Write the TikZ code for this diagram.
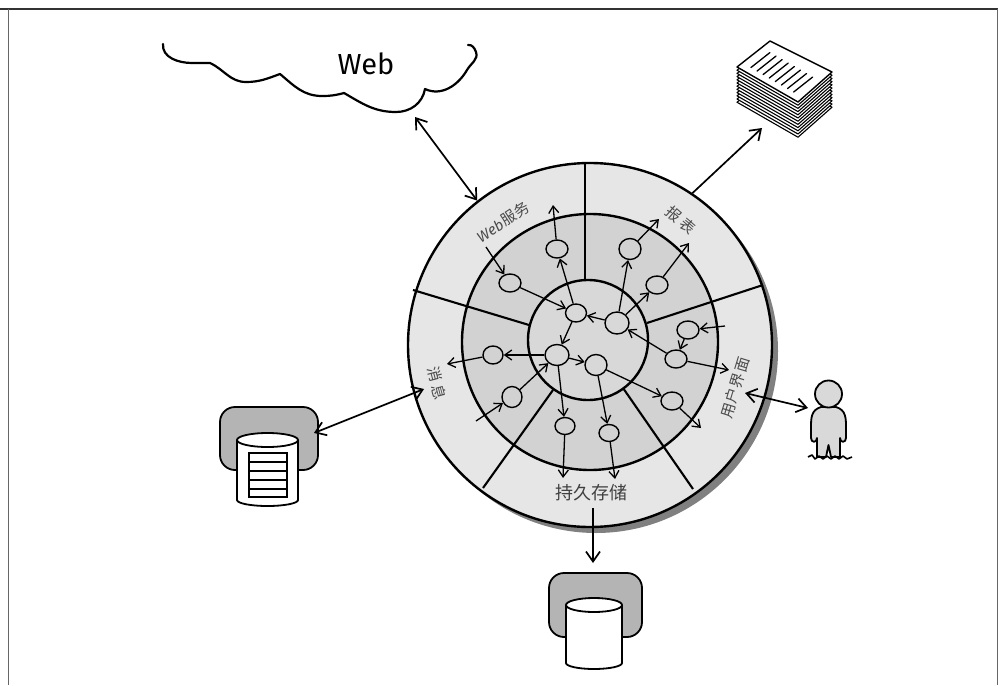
\documentclass[tikz,border=0pt]{standalone}
\usepackage{fontspec}
\newfontfamily\cjk{Noto Sans CJK SC}
\newfontfamily\handfont{Fira Sans}
\usetikzlibrary{arrows.meta,shapes.geometric,calc}

\definecolor{ringouter}{HTML}{E6E6E6}
\definecolor{ringmid}{HTML}{D2D2D2}
\definecolor{ringinner}{HTML}{D8D8D8}
\definecolor{dbgray}{HTML}{B4B4B4}
\definecolor{labelgray}{HTML}{4A4A4A}

\begin{document}
\begin{tikzpicture}[x=1pt,y=-1pt,
  ringline/.style={line width=2.4pt,draw=black},
  divider/.style={line width=2.1pt},
  bub/.style={ellipse,draw,line width=1.4pt,minimum width=22pt,minimum height=18pt,inner sep=0pt},
  flow/.style={line width=1.3pt,-{Straight Barb[length=7pt,width=10pt,line width=1.3pt]}},
  link/.style={line width=1.7pt,-{Straight Barb[length=10pt,width=14pt,line width=1.7pt]}},
  dlink/.style={line width=1.7pt,{Straight Barb[length=10pt,width=14pt,line width=1.7pt]}-{Straight Barb[length=10pt,width=14pt,line width=1.7pt]}},
  lbl/.style={font=\cjk\fontsize{15}{15}\selectfont,text=labelgray,inner sep=0pt},
  paper/.style={fill=white,draw=black,line width=1.1pt,line join=round},
  dbbox/.style={fill=dbgray,draw=black,line width=1.8pt,rounded corners=15pt},
  can/.style={fill=white,draw=black,line width=1.8pt},
]
\useasboundingbox (0,0) rectangle (998,685);

% frame
\draw[line width=1.6pt,black!80] (0,9) -- (998,9);
\draw[line width=0.8pt,black!60] (8,9) -- (8,685);
\draw[line width=0.8pt,black!60] (997,9) -- (997,685);

% ---------- rings ----------
\fill[black!50] (596,351) circle[radius=182];
\node[circle,minimum size=364pt,inner sep=0pt,fill=ringouter,ringline] (outer) at (590,345) {};
\node[circle,minimum size=256pt,inner sep=0pt,fill=ringmid,ringline] (middle) at (590,342) {};
\node[circle,minimum size=120pt,inner sep=0pt,fill=ringinner,ringline] (inner) at (588,340) {};

% sector dividers
\draw[divider] (585,280) -- (585,164);
\draw[divider] (647,323) -- (763,285);
\draw[divider] (529,325) -- (413,290);
\draw[divider] (553,390) -- (483,488);
\draw[divider] (623,388) -- (693,489);

% sector labels
\node[lbl,rotate=33] (lweb) at (503,222) {{\handfont\itshape Web}\hspace{1pt}服务};
\node[lbl,rotate=-41] (lrep) at (681,220) {报\hspace{3pt}表};
\node[lbl,rotate=73] (lui) at (735,388) {用\hspace{1pt}户\hspace{1pt}界\hspace{1pt}面};
\node[lbl,rotate=-75] (lmsg) at (437,383) {消\hspace{4pt}息};
\node[lbl,font=\cjk\fontsize{18}{18}\selectfont,text=black!75] (lstore) at (591,493) {持久存储};

% ---------- components ----------
\node[bub] (n1) at (557,249) {};
\node[bub] (n2) at (510,283) {};
\node[bub,minimum width=21pt] (n3) at (576,313) {};
\node[bub,minimum width=24pt,minimum height=22pt] (n4) at (617,323) {};
\node[bub,minimum height=21pt] (n5) at (630,249) {};
\node[bub] (n6) at (657,285) {};
\node[bub] (n7) at (688,330) {};
\node[bub] (n8) at (676,359) {};
\node[bub,minimum width=24pt,minimum height=21pt] (n9) at (557,355) {};
\node[bub,minimum width=20pt] (n10) at (493,355) {};
\node[bub,minimum width=20pt,minimum height=21pt] (n11) at (512,397) {};
\node[bub,minimum width=22pt,minimum height=21pt] (n12) at (596,365) {};
\node[bub] (n13) at (672,401) {};
\node[bub,minimum width=20pt,minimum height=17pt] (n14) at (565,426) {};
\node[bub,minimum width=20pt,minimum height=17pt] (n15) at (609,433) {};

% free ends of the flows
\coordinate (wIn) at (486,247);
\coordinate (wOut) at (553,205);
\coordinate (rOut1) at (659,219);
\coordinate (rOut2) at (689,243);
\coordinate (uIn) at (725,326);
\coordinate (uOut1) at (729,370);
\coordinate (uOut2) at (701,428);
\coordinate (pOut1) at (563,478);
\coordinate (pOut2) at (615,479);
\coordinate (mOut) at (447,364);
\coordinate (mIn) at (476,421);

% flows between components
\draw[flow] (wIn) -- (n2);
\draw[flow] (n2) -- (n3);
\draw[flow] (n3) -- (n1);
\draw[flow] (n1) -- (wOut);
\draw[flow] (n4) -- (n3);
\draw[flow] (n3) -- (n9);
\draw[flow] (n4) -- (n5);
\draw[flow] (n5) -- (rOut1);
\draw[flow] (n4) -- (n6);
\draw[flow] (n6) -- (rOut2);
\draw[flow] (uIn) -- (n7);
\draw[flow] (n7) -- (n8);
\draw[flow] (n8) -- (n4);
\draw[flow] (n8) -- (uOut1);
\draw[flow] (n9) -- (n12);
\draw[flow] (n12) -- (n13);
\draw[flow] (n13) -- (uOut2);
\draw[flow] (n9) -- (n10);
\draw[flow] (n10) -- (mOut);
\draw[flow] (mIn) -- (n11);
\draw[flow] (n11) -- (n9);
\draw[flow] (n9) -- (n14);
\draw[flow] (n14) -- (pOut1);
\draw[flow] (n12) -- (n15);
\draw[flow] (n15) -- (pOut2);

% ---------- web cloud ----------
\draw[line width=2.2pt,line cap=round,line join=round]
  (163,44) to[out=-95,in=180] (192,63) -- (210,63)
  to[out=-25,in=180] (246,82) to[out=0,in=-160] (280,74)
  to[out=-40,in=180] (322,96) to[out=0,in=-165] (344,93)
  to[out=-30,in=180] (396,112) to[out=0,in=-100] (425,89)
  to[out=-25,in=-120] (467,70)
  to[out=60,in=-70] (476,52) to[out=110,in=10] (468,45);
\node[font=\handfont\fontsize{29}{29}\selectfont,inner sep=0pt] (cloudtext) at (366,64) {Web};
\coordinate (cloud) at (415,117);

% ---------- report stack ----------
\foreach \k in {11,10,...,1}
  \draw[paper,shift={(0,3.2*\k)}] (770,41) -- (832,72) -- (798,102) -- (737,67) -- cycle;
\draw[paper,line width=1.4pt] (770,41) -- (832,72) -- (798,102) -- (737,67) -- cycle;
\foreach \t in {0.13,0.23,...,0.85}
  \draw[line width=1.3pt,line cap=round] ($(737,67)!\t!(798,102)+(6,-4)$) -- ++(19,-15);
\coordinate (reports) at (762,128);

% ---------- message store ----------
\draw[dbbox] (220,407) rectangle (318,470);
\draw[can] (237,440) -- (237,500) arc[start angle=180,end angle=0,x radius=30.5,y radius=6] -- (298,440);
\draw[can] (267.5,440) ellipse[x radius=30.5,y radius=7];
\draw[line width=1.6pt,fill=white] (249,453) rectangle (287,497);
\foreach \yy in {462,471,480,489}
  \draw[line width=1.6pt] (249,\yy) -- (287,\yy);
\coordinate (msgstore) at (314,433);
\coordinate (msgEdge) at (424,389);

% ---------- persistent store ----------
\draw[dbbox] (549,573) rectangle (642,637);
\draw[can] (566,605) -- (566,663) arc[start angle=180,end angle=0,x radius=28,y radius=6] -- (622,605);
\draw[can] (594,605) ellipse[x radius=28,y radius=7];
\coordinate (datastore) at (593,563);
\coordinate (storeOut) at (593,508);

% ---------- user ----------
\draw[fill=black!15,line width=1.8pt,line join=round]
  (821,407) .. controls (811,410) and (811,418) .. (811,428) -- (811,438)
  .. controls (811,443) and (817,443) .. (817,438) -- (817,457) -- (826,457)
  -- (828.5,445) -- (831,457) -- (840,457) -- (840,438)
  .. controls (840,443) and (846,443) .. (846,438) -- (846,428)
  .. controls (846,418) and (846,410) .. (836,407) -- cycle;
\draw[fill=black!15,line width=1.8pt] (828.5,394) circle[radius=13.5];
\draw[line width=1.6pt,line join=round]
  (808,457) -- (812,455) -- (815,459) -- (819,456) -- (823,459) -- (827,456)
  -- (831,459) -- (835,456) -- (839,459) -- (843,456) -- (847,459) -- (852,457);
\coordinate (user) at (808,408);
\coordinate (uiEdge) at (745,393);

% ---------- external links ----------
\draw[dlink] (cloud) -- (outer.128);
\draw[link] (outer.56) -- (reports);
\draw[dlink] (msgstore) -- (msgEdge);
\draw[link] (storeOut) -- (datastore);
\draw[dlink] (uiEdge) -- (user);

\end{tikzpicture}
\end{document}
